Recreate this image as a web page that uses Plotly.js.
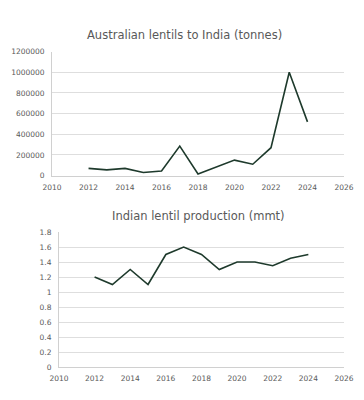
<!DOCTYPE html>
<html><head><meta charset="utf-8">
<script src="https://cdn.plot.ly/plotly-3.0.1.min.js"></script>
<style>html,body{margin:0;padding:0;background:#fff}#chart{width:364px;height:400px}</style>
</head><body><div id="chart"></div>
<script>
const years = [2012,2013,2014,2015,2016,2017,2018,2019,2020,2021,2022,2023,2024];
const exportsTonnes = [70000,55000,70000,30000,45000,285000,15000,85000,150000,110000,270000,1000000,520000];
const productionMmt = [1.2,1.1,1.3,1.1,1.5,1.6,1.5,1.3,1.4,1.4,1.35,1.45,1.5];
const xTicks = [2010,2012,2014,2016,2018,2020,2022,2024,2026];
const topTitle = 'Australian lentils to India (tonnes)';
const bottomTitle = 'Indian lentil production (mmt)';

const lineColor = '#1e3a2c';
const font = {family: 'DejaVu Sans, Verdana, sans-serif', size: 7.5, color: '#595959'};
const titleFont = {family: 'DejaVu Sans, Verdana, sans-serif', size: 11.5, color: '#595959'};
const axisCommon = {
  showgrid: true, gridcolor: '#dedede', gridwidth: 1,
  showline: true, linecolor: '#d0d0d0', linewidth: 1,
  zeroline: false, ticks: '', tickfont: font, fixedrange: true
};

const data = [
  {x: years, y: exportsTonnes, type: 'scatter', mode: 'lines', line: {color: lineColor, width: 1.6}, xaxis: 'x', yaxis: 'y', hoverinfo: 'skip'},
  {x: years, y: productionMmt, type: 'scatter', mode: 'lines', line: {color: lineColor, width: 1.6}, xaxis: 'x2', yaxis: 'y2', hoverinfo: 'skip'}
];

const layout = {
  width: 364, height: 400,
  margin: {l: 0, r: 0, t: 0, b: 0},
  paper_bgcolor: '#fff', plot_bgcolor: '#fff',
  showlegend: false,
  font: font,
  xaxis: Object.assign({}, axisCommon, {domain: [0.143, 0.945], range: [2010, 2026], tickvals: xTicks, showgrid: false, anchor: 'y', ticklabelstandoff: 4}),
  yaxis: Object.assign({}, axisCommon, {domain: [0.561, 0.871], range: [0, 1200000], dtick: 200000, tickformat: 'd', anchor: 'x', ticklabelstandoff: 5}),
  xaxis2: Object.assign({}, axisCommon, {domain: [0.162, 0.945], range: [2010, 2026], tickvals: xTicks, showgrid: false, anchor: 'y2', ticklabelstandoff: 4}),
  yaxis2: Object.assign({}, axisCommon, {domain: [0.0825, 0.42], range: [0, 1.8], dtick: 0.2, tickformat: '~g', anchor: 'x2', ticklabelstandoff: 5}),
  annotations: [
    {text: topTitle, xref: 'paper', yref: 'paper', x: 0.508, y: 0.9125, xanchor: 'center', yanchor: 'middle', showarrow: false, font: titleFont},
    {text: bottomTitle, xref: 'paper', yref: 'paper', x: 0.546, y: 0.46, xanchor: 'center', yanchor: 'middle', showarrow: false, font: titleFont}
  ]
};

Plotly.newPlot('chart', data, layout, {staticPlot: true, displayModeBar: false});
</script></body></html>
